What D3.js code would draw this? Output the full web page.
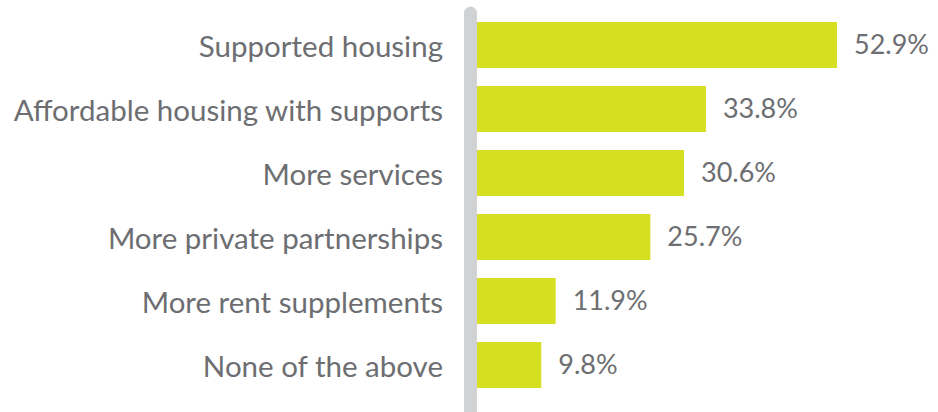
<!DOCTYPE html>
<html>
<head>
<meta charset="utf-8">
<script src="https://cdn.jsdelivr.net/npm/d3@7"></script>
<style>
	body { margin: 0; background: #fff; }
	svg text { font-family: Lato, "Open Sans", sans-serif; fill: #6d6e71; }
</style>
</head>
<body>
<div id="chart"></div>
<script>
const categories = [
	'Supported housing',
	'Affordable housing with supports',
	'More services',
	'More private partnerships',
	'More rent supplements',
	'None of the above'
];
const values = [52.9, 33.8, 30.6, 25.7, 11.9, 9.8];

const width = 938, height = 412;
const x0 = 474;

const svg = d3.select('#chart').append('svg')
	.attr('width', width)
	.attr('height', height);

const x = d3.scaleLinear()
	.domain([0, 52.9])
	.range([x0, 837]);

const y = d3.scaleBand()
	.domain(categories)
	.range([13, 397])
	.paddingInner(0.28125)
	.paddingOuter(0.140625);

// bars
svg.selectAll('rect.bar')
	.data(values)
	.join('rect')
	.attr('class', 'bar')
	.attr('x', x(0))
	.attr('y', (d, i) => y(categories[i]))
	.attr('width', d => x(d) - x(0))
	.attr('height', y.bandwidth())
	.style('fill', '#d7df21');

// the grey axis line, drawn over the start of the bars
svg.append('line')
	.attr('x1', 470.5).attr('x2', 470.5)
	.attr('y1', 13).attr('y2', height + 10)
	.attr('stroke', '#d1d2d4')
	.attr('stroke-width', 13)
	.attr('stroke-linecap', 'round');

// category labels
svg.selectAll('text.cat')
	.data(categories)
	.join('text')
	.attr('class', 'cat')
	.attr('x', 443)
	.attr('y', d => y(d) + y.bandwidth() / 2)
	.attr('dy', '0.41em')
	.attr('text-anchor', 'end')
	.style('font-size', '29.5px')
	.text(d => d);

// value labels
svg.selectAll('text.val')
	.data(values)
	.join('text')
	.attr('class', 'val')
	.attr('x', d => x(d) + 17)
	.attr('y', (d, i) => y(categories[i]) + y.bandwidth() / 2)
	.attr('dy', '0.35em')
	.style('font-size', '27px')
	.text(d => `${d.toFixed(1)}%`);
</script>
</body>
</html>
